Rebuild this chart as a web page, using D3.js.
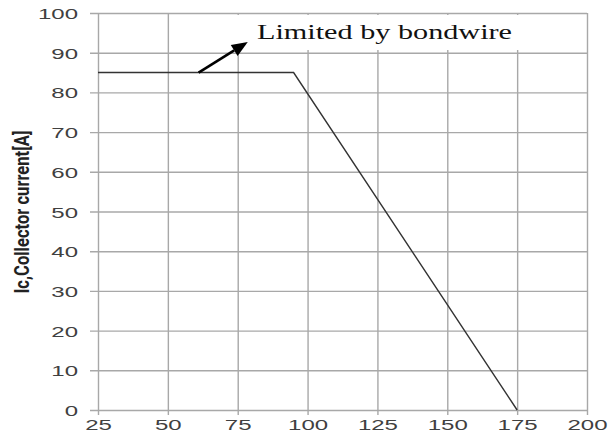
<!DOCTYPE html>
<html>
<head>
<meta charset="utf-8">
<script src="https://cdn.jsdelivr.net/npm/d3@7"></script>
<style>
  html, body { margin: 0; padding: 0; background: #fff; }
  svg { display: block; }
</style>
</head>
<body>
<svg id="chart" width="616" height="432"></svg>
<script>
// Case temperature [°C] vs. collector current limit [A]
const tempC = [25, 95, 175];
const currentA = [85, 85, 0];

const xTicks = [25, 50, 75, 100, 125, 150, 175, 200];
const yTicks = [0, 10, 20, 30, 40, 50, 60, 70, 80, 90, 100];

const yTitle = "Ic,Collector current[A]";
const noteText = "Limited by bondwire";
// arrow from the flat segment up toward the note
const noteArrowFrom = [61, 85];
const noteArrowTo = [78.6, 92.7];

const plot = { left: 98, right: 587, top: 13, bottom: 410 };
const stretch = 1.55; // horizontally widened lettering

const svg = d3.select("#chart");

const x = d3.scaleLinear().domain([25, 200]).range([plot.left, plot.right]);
const y = d3.scaleLinear().domain([0, 100]).range([plot.bottom, plot.top]);

const gridColor = "#a8a8a8";
const labelColor = "#404040";

// vertical grid + x ticks
const xAxis = svg.append("g")
  .attr("transform", `translate(0,${plot.bottom})`)
  .call(d3.axisBottom(x).tickValues(xTicks).tickSize(5).tickSizeOuter(0).tickFormat(d3.format("d")));
xAxis.select(".domain").remove();
xAxis.selectAll(".tick line")
  .attr("y1", -(plot.bottom - plot.top))
  .attr("y2", 5)
  .attr("stroke", gridColor).attr("stroke-width", 1.4);
xAxis.selectAll(".tick text")
  .attr("y", 20).attr("dy", 0)
  .attr("transform", `scale(${stretch},1)`)
  .attr("fill", labelColor)
  .style("font-family", "'Liberation Sans', Arial, sans-serif")
  .style("font-size", "15.5px");

// horizontal grid + y ticks
const yAxis = svg.append("g")
  .attr("transform", `translate(${plot.left},0)`)
  .call(d3.axisLeft(y).tickValues(yTicks).tickSize(8).tickSizeOuter(0).tickFormat(d3.format("d")));
yAxis.select(".domain").remove();
yAxis.selectAll(".tick line")
  .attr("x1", -8)
  .attr("x2", plot.right - plot.left)
  .attr("stroke", gridColor).attr("stroke-width", 1.4);
yAxis.selectAll(".tick text")
  .attr("x", -20 / stretch).attr("dy", "0.36em")
  .attr("transform", `scale(${stretch},1)`)
  .attr("fill", labelColor)
  .style("font-family", "'Liberation Sans', Arial, sans-serif")
  .style("font-size", "15.5px");

// white panel behind the note
svg.append("rect")
  .attr("x", 235).attr("y", 15)
  .attr("width", 298).attr("height", 35)
  .attr("fill", "#fff");

// derating curve
const line = d3.line().x((d, i) => x(tempC[i])).y((d, i) => y(currentA[i]));
svg.append("path")
  .datum(tempC)
  .attr("d", line)
  .attr("fill", "none")
  .attr("stroke", "#333")
  .attr("stroke-width", 1.4);

// arrow
const ah = svg.append("g");
const x1 = x(noteArrowFrom[0]), y1 = y(noteArrowFrom[1]);
const x2 = x(noteArrowTo[0]), y2 = y(noteArrowTo[1]);
const ang = Math.atan2(y2 - y1, x2 - x1);
const hl = 16, hw = 6.5;
const bx = x2 - hl * Math.cos(ang), by = y2 - hl * Math.sin(ang);
ah.append("line")
  .attr("x1", x1).attr("y1", y1).attr("x2", bx).attr("y2", by)
  .attr("stroke", "#000").attr("stroke-width", 2.6);
ah.append("path")
  .attr("d", `M${x2},${y2} L${bx + hw * Math.sin(ang)},${by - hw * Math.cos(ang)} L${bx - hw * Math.sin(ang)},${by + hw * Math.cos(ang)} Z`)
  .attr("fill", "#000");

// note text
svg.append("text")
  .attr("x", 257).attr("y", 39)
  .attr("textLength", 255).attr("lengthAdjust", "spacingAndGlyphs")
  .attr("fill", "#111")
  .style("font-family", "'Liberation Serif', 'Times New Roman', serif")
  .style("font-size", "20px")
  .text(noteText);

// y axis title
svg.append("text")
  .attr("transform", `translate(29,212) scale(1.45,1) rotate(-90)`)
  .attr("text-anchor", "middle")
  .attr("textLength", 163).attr("lengthAdjust", "spacingAndGlyphs")
  .attr("fill", "#222")
  .style("font-family", "'Liberation Sans Narrow', 'Roboto', 'Liberation Sans', sans-serif")
  .style("font-weight", "bold")
  .style("font-size", "14px")
  .text(yTitle);
</script>
</body>
</html>
